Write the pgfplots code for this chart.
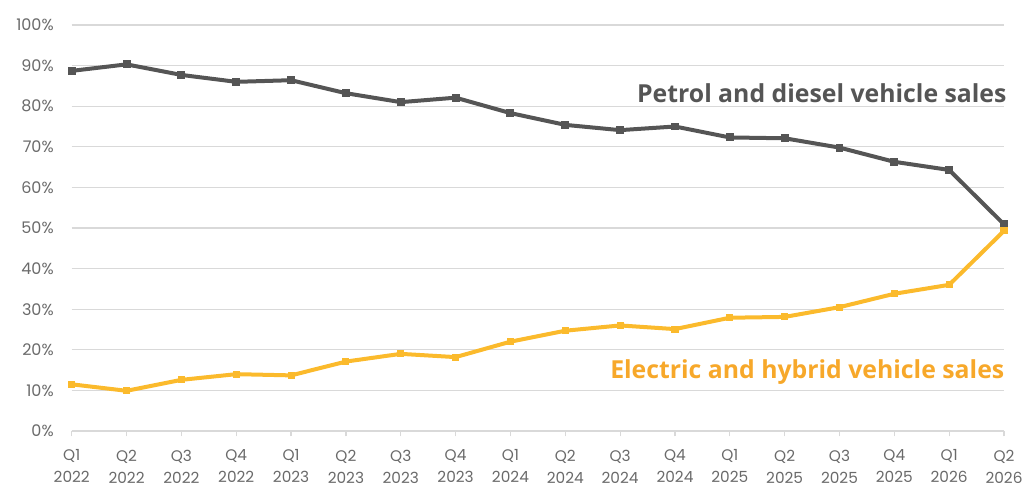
\documentclass[border=0pt]{standalone}
\usepackage{fontspec}
\setmainfont{Poppins}
\newfontfamily\annfont{Open Sans}
\usepackage{pgfplots}
\pgfplotsset{compat=1.18}
\definecolor{petrol}{HTML}{555555}
\definecolor{ev}{HTML}{FBBA2C}
\definecolor{evtext}{HTML}{F7A82A}
\definecolor{gridc}{HTML}{D9D9D9}
\definecolor{tickc}{HTML}{6A6A6A}
\begin{document}
\begin{tikzpicture}
\useasboundingbox (-53.8pt,-51.75pt) rectangle (714.2pt,323.25pt);
\begin{axis}[
  at={(0pt,0pt)}, anchor=south west,
  scale only axis, width=699.2pt, height=304.5pt,
  xmin=0, xmax=17, ymin=0, ymax=100,
  clip=false,
  axis x line*=bottom, axis y line*=left,
  y axis line style={draw=none},
  x axis line style={draw=gridc, line width=0.9pt},
  ytick={0,10,...,100},
  yticklabels={0\%,10\%,20\%,30\%,40\%,50\%,60\%,70\%,80\%,90\%,100\%},
  xtick={0,...,17},
  xticklabels={{Q1\\2022},{Q2\\2022},{Q3\\2022},{Q4\\2022},{Q1\\2023},{Q2\\2023},{Q3\\2023},{Q4\\2023},{Q1\\2024},{Q2\\2024},{Q3\\2024},{Q4\\2024},{Q1\\2025},{Q2\\2025},{Q3\\2025},{Q4\\2025},{Q1\\2026},{Q2\\2026}},
  xticklabel style={align=center, font=\fontsize{11.5}{16.5}\selectfont, text=tickc},
  yticklabel style={font=\fontsize{12}{14}\selectfont, text=tickc},
  ytick style={draw=none},
  xtick style={draw=gridc, line width=0.9pt},
  tick align=outside, major tick length=4pt,
  ymajorgrids, grid style={draw=gridc, line width=0.9pt},
  xticklabel shift=6.5pt, yticklabel shift=6pt,
]
\addplot[petrol, line width=3pt, mark=square*, mark size=2.6pt, mark options={line width=0pt}] coordinates {
(0,88.7)(1,90.3)(2,87.7)(3,86.0)(4,86.4)(5,83.2)(6,81.0)(7,82.1)(8,78.3)(9,75.4)(10,74.1)(11,75.0)(12,72.3)(13,72.1)(14,69.8)(15,66.3)(16,64.3)(17,50.9)};
\addplot[ev, line width=3pt, mark=square*, mark size=2.3pt, mark options={line width=0pt}] coordinates {
(0,11.5)(1,9.9)(2,12.6)(3,14.0)(4,13.7)(5,17.1)(6,19.0)(7,18.2)(8,22.0)(9,24.7)(10,26.0)(11,25.1)(12,27.9)(13,28.1)(14,30.5)(15,33.8)(16,36.0)(17,49.3)};
\node[anchor=base east, inner sep=0pt, text=petrol, font=\annfont\bfseries\fontsize{18.6}{22}\selectfont] at (axis cs:17.05,80.8) {Petrol and diesel vehicle sales};
\node[anchor=base east, inner sep=0pt, text=evtext, font=\annfont\bfseries\fontsize{18.6}{22}\selectfont] at (axis cs:17.01,13.0) {Electric and hybrid vehicle sales};
\end{axis}
\end{tikzpicture}
\end{document}
